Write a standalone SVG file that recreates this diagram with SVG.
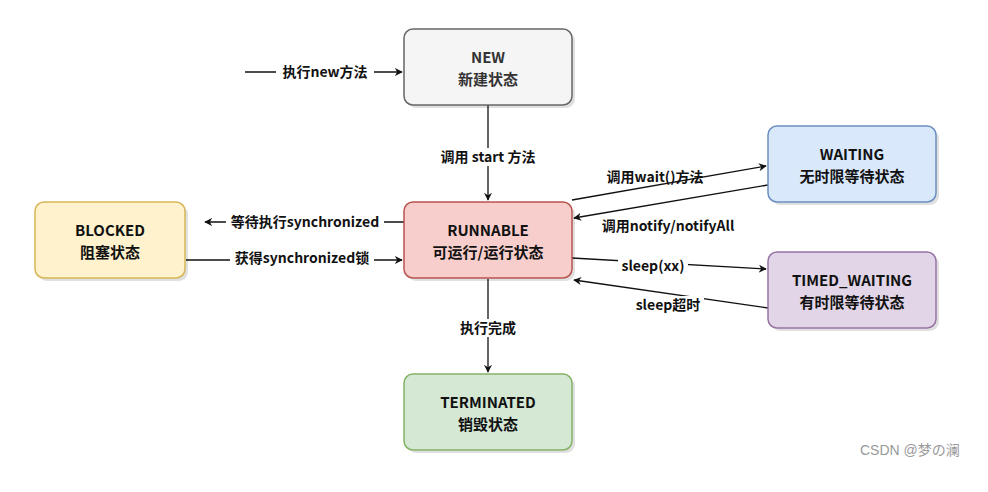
<svg xmlns="http://www.w3.org/2000/svg" width="988" height="492" viewBox="0 0 988 492">
<style>
.box{stroke-width:1.5}
.shadow{fill:#000;opacity:0.12}
.t{font-family:"Comic Sans MS","Noto Sans CJK SC",sans-serif;font-weight:bold;font-size:15px;text-anchor:middle;fill:#111}
.lbl{font-family:"Noto Sans CJK SC",sans-serif;font-weight:bold;font-size:14px;text-anchor:middle;fill:#111}
.lblbg{fill:#fff}
.c{fill:none;stroke:#111;stroke-width:1.3}
.wm{font-family:"Liberation Sans","Noto Sans CJK SC",sans-serif;font-size:14px;fill:#999}
</style>
<defs>
<marker id="ah" viewBox="0 0 10 10" refX="9" refY="5" markerWidth="8" markerHeight="8" orient="auto" markerUnits="userSpaceOnUse">
<path d="M0,0 L10,5 L0,10 L3,5 Z" fill="#111"/>
</marker>
</defs>
<rect width="988" height="492" fill="#fff"/>

<g id="connectors">
<path class="c" d="M245,72 L402,72" marker-end="url(#ah)"/>
<path class="c" d="M488,105 L488,200" marker-end="url(#ah)"/>
<path class="c" d="M404,222 L205,222" marker-end="url(#ah)"/>
<path class="c" d="M186,260 L402,260" marker-end="url(#ah)"/>
<path class="c" d="M572,200 L766,166" marker-end="url(#ah)"/>
<path class="c" d="M768,185 L574,218" marker-end="url(#ah)"/>
<path class="c" d="M572,258 L766,269" marker-end="url(#ah)"/>
<path class="c" d="M768,308 L574,280" marker-end="url(#ah)"/>
<path class="c" d="M488,279 L488,372" marker-end="url(#ah)"/>
<g>
<rect class="lblbg" x="276" y="63" width="98" height="18"/>
<text class="lbl" x="325" y="77">执行new方法</text>
<rect class="lblbg" x="426" y="148" width="124" height="18"/>
<text class="lbl" x="488" y="162">调用 start 方法</text>
<rect class="lblbg" x="226" y="213" width="158" height="18"/>
<text class="lbl" x="305" y="227">等待执行synchronized</text>
<rect class="lblbg" x="230" y="249" width="144" height="18"/>
<text class="lbl" x="302" y="263">获得synchronized锁</text>
<text class="lbl" x="655" y="182">调用wait()方法</text>
<text class="lbl" x="668" y="231">调用notify/notifyAll</text>
<rect class="lblbg" x="618" y="257" width="70" height="18"/>
<text class="lbl" x="653" y="271">sleep(xx)</text>
<rect class="lblbg" x="632" y="296" width="72" height="18"/>
<text class="lbl" x="668" y="310">sleep超时</text>
<rect class="lblbg" x="454" y="319" width="68" height="18"/>
<text class="lbl" x="488" y="333">执行完成</text>
</g>
</g>

<g id="new">
<rect class="shadow" x="407" y="32" width="168" height="76" rx="9"/>
<rect class="box" x="404" y="29" width="168" height="76" rx="9" fill="#f5f5f5" stroke="#666"/>
<text class="t" x="488" y="63" style="fill:#333">NEW</text>
<text class="t" x="488" y="85" style="fill:#333">新建状态</text>
</g>
<g id="runnable">
<rect class="shadow" x="407" y="205" width="168" height="76" rx="9"/>
<rect class="box" x="404" y="202" width="168" height="76" rx="9" fill="#f8cecc" stroke="#b85450"/>
<text class="t" x="488" y="236">RUNNABLE</text>
<text class="t" x="488" y="258">可运行/运行状态</text>
</g>
<g id="blocked">
<rect class="shadow" x="38" y="205" width="150" height="76" rx="9"/>
<rect class="box" x="35" y="202" width="150" height="76" rx="9" fill="#fff2cc" stroke="#d6b656"/>
<text class="t" x="110" y="236">BLOCKED</text>
<text class="t" x="110" y="258">阻塞状态</text>
</g>
<g id="waiting">
<rect class="shadow" x="771" y="129" width="168" height="76" rx="9"/>
<rect class="box" x="768" y="126" width="168" height="76" rx="9" fill="#dae8fc" stroke="#6c8ebf"/>
<text class="t" x="852" y="160">WAITING</text>
<text class="t" x="852" y="182">无时限等待状态</text>
</g>
<g id="timed_waiting">
<rect class="shadow" x="771" y="255" width="168" height="76" rx="9"/>
<rect class="box" x="768" y="252" width="168" height="76" rx="9" fill="#e1d5e7" stroke="#9673a6"/>
<text class="t" x="852" y="286">TIMED_WAITING</text>
<text class="t" x="852" y="308">有时限等待状态</text>
</g>
<g id="terminated">
<rect class="shadow" x="407" y="377" width="168" height="76" rx="9"/>
<rect class="box" x="404" y="374" width="168" height="76" rx="9" fill="#d5e8d4" stroke="#82b366"/>
<text class="t" x="488" y="408">TERMINATED</text>
<text class="t" x="488" y="430">销毁状态</text>
</g>
<text class="wm" x="860" y="455">CSDN @梦の澜</text>
</svg>
